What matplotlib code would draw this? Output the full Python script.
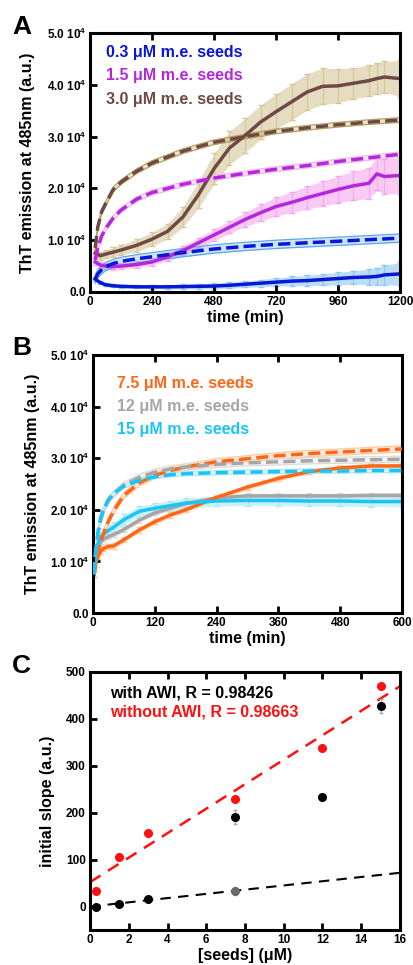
import numpy as np
import matplotlib
matplotlib.use('Agg')
import matplotlib.pyplot as plt

plt.rcParams['font.family'] = ['Liberation Sans', 'DejaVu Sans']
plt.rcParams['font.weight'] = 'bold'
plt.rcParams['mathtext.fontset'] = 'custom'
plt.rcParams['mathtext.bf'] = 'Liberation Sans:bold'
plt.rcParams['mathtext.rm'] = 'Liberation Sans:bold'
plt.rcParams['mathtext.default'] = 'bf'

# ---- Panel A data (time in min, ThT emission) ----
a_time = [20, 40, 60, 90, 120, 180, 240, 300, 360, 420, 480, 540, 600, 660,
          720, 780, 840, 900, 960, 1020, 1080, 1110, 1140, 1200]
a_blue = [2500, 1800, 1400, 1200, 1100, 1000, 1000, 1000, 1050, 1100, 1150, 1300,
          1500, 1700, 1900, 2100, 2200, 2400, 2600, 2800, 2900, 3000, 3300, 3500]
a_blue_err = [300, 300, 300, 300, 300, 300, 400, 400, 400, 500, 500, 600,
              600, 700, 800, 900, 1000, 1100, 1200, 1300, 1500, 1600, 1900, 2200]
a_mag = [5800, 5200, 5000, 4900, 5000, 5300, 5800, 6800, 8000, 9500, 11000, 12500,
         14000, 15300, 16500, 17300, 18200, 19000, 19800, 20500, 21000, 22800, 22300, 22500]
a_mag_err = [600, 600, 600, 600, 600, 600, 700, 800, 900, 1000, 1100, 1200,
             1400, 1600, 1800, 2000, 2200, 2400, 2600, 2800, 3000, 3200, 3400, 3500]
a_brown = [7500, 7000, 7300, 7700, 8100, 9000, 10200, 11700, 14500, 18800, 23800, 27800,
           30200, 32800, 34800, 36700, 38600, 39700, 39800, 40300, 40800, 41200, 41500, 41200]
a_brown_err = [800, 800, 800, 900, 1000, 1200, 1300, 1500, 2000, 2500, 3000, 3200,
               3300, 3300, 3400, 3500, 3500, 3500, 3300, 3000, 3000, 3000, 3000, 3500]

a_fit_time = [20, 30, 45, 60, 90, 120, 180, 240, 360, 480, 600, 720, 840, 960, 1080, 1200]
a_blue_fit = [2500, 3500, 4300, 4900, 5500, 5900, 6400, 6800, 7600, 8300, 8800,
              9200, 9500, 9800, 10100, 10400]
a_mag_fit = [6200, 8500, 10800, 12200, 14300, 15800, 17900, 19200, 20800, 22000,
             22900, 23700, 24400, 25200, 25900, 26600]
a_brown_fit = [8500, 12500, 15500, 17000, 19800, 21200, 23300, 24900, 27200, 28900,
               30000, 31000, 31700, 32300, 32800, 33200]

# ---- Panel B data ----
b_time = [2, 5, 10, 15, 20, 30, 40, 60, 90, 120, 150, 180, 240, 300, 360, 420, 480, 540, 600]
b_orange = [7500, 9500, 11000, 12000, 12500, 12900, 13000, 14200, 16100, 17700, 19000,
            20000, 22400, 24400, 26100, 27400, 28100, 28500, 28500]
b_gray = [7500, 10500, 12500, 13800, 14300, 14800, 15200, 16200, 18000, 19400, 20300,
          21200, 22300, 22700, 22700, 22700, 22700, 22800, 22800]
b_cyan = [7500, 11000, 13500, 14800, 15300, 16000, 16600, 18100, 19700, 20300, 20800,
          21300, 21700, 21800, 21800, 21700, 21700, 21600, 21600]
b_orange_err = [500] * 19
b_gray_err = [500] * 19
b_cyan_err = [600, 700, 800, 900, 1000, 1000, 1000, 1000, 1000, 1000, 1000,
              1000, 1000, 1000, 1000, 1000, 1000, 1000, 1000]
b_orange_fit = [7500, 9500, 12000, 13800, 15300, 17800, 19800, 22800, 25200, 26700, 27600,
                28300, 29300, 29900, 30500, 30900, 31200, 31500, 31800]
b_gray_fit = [7500, 11500, 15500, 18000, 19700, 21800, 23000, 24800, 26300, 27300, 27900,
              28300, 28800, 29100, 29300, 29500, 29600, 29700, 29800]
b_cyan_fit = [7500, 12000, 16000, 18500, 20000, 22000, 23200, 24600, 25700, 26400, 26800,
              27000, 27200, 27300, 27400, 27500, 27500, 27600, 27600]

# ---- Panel C data ----
seeds = [0.3, 1.5, 3.0, 7.5, 12, 15]
slope_awi = [0, 5, 17, 191, 234, 428]
slope_awi_err = [3, 3, 4, 15, 5, 15]
slope_noawi = [34, 105, 157, 229, 338, 471]
gray_pt_x = [7.5]
gray_pt_y = [33]
fit_awi = [4.5, 0.0]      # slope, intercept
fit_noawi = [26.1, 52.0]

W, H = 413, 965
fig = plt.figure(figsize=(W / 100, H / 100), dpi=100)


def style_axes(ax):
    for s in ax.spines.values():
        s.set_linewidth(2.2)
    ax.tick_params(direction='in', length=5, width=2, top=True, right=False,
                   labelsize=8.5, pad=3)
    for lbl in ax.get_xticklabels() + ax.get_yticklabels():
        lbl.set_fontweight('bold')


def sci_labels(ax):
    ax.set_yticks([0, 10000, 20000, 30000, 40000, 50000])
    ax.set_yticklabels(['0.0'] + ['%.1f 10$^{4}$' % v for v in [1, 2, 3, 4, 5]])


def data_curve(ax, t, y, err, col, band, lw=2.5):
    # band + error bars go underneath every line, the line itself on top
    t = np.array(t); y = np.array(y); err = np.array(err)
    ax.fill_between(t, y - err, y + err, color=band, alpha=0.6, lw=0, zorder=1)
    ax.errorbar(t, y, yerr=err, fmt='none', ecolor=band, elinewidth=0.8, capsize=2,
                zorder=1.2)
    ax.plot(t, y, color=col, lw=lw, zorder=2.5)


def fit_curve(ax, t, y, col, env, d=700, lw=2.5):
    t = np.array(t); y = np.array(y)
    ax.fill_between(t, y - d, y + d, color=env, alpha=0.3, lw=0, zorder=1.5)
    ax.plot(t, y + d, color=env, lw=0.9, zorder=1.6)
    ax.plot(t, y - d, color=env, lw=0.9, zorder=1.6)
    ax.plot(t, y, color=col, lw=lw, ls=(0, (3.5, 1.5)), zorder=3)


# ---- Panel A ----
axA = fig.add_axes([90 / W, 1 - 292 / H, 310 / W, 259 / H])
data_curve(axA, a_time, a_brown, a_brown_err, '#6e4a44', '#d4c698')
data_curve(axA, a_time, a_mag, a_mag_err, '#b428dc', '#f4a8ee')
data_curve(axA, a_time, a_blue, a_blue_err, '#0a16d8', '#8ec8f2')
fit_curve(axA, a_fit_time, a_brown_fit, '#6e4a44', '#b8a060', d=450)
fit_curve(axA, a_fit_time, a_mag_fit, '#b428dc', '#f6b4f0', d=450)
fit_curve(axA, a_fit_time, a_blue_fit, '#0a16d8', '#5aa8ec', d=800)
axA.set_xlim(0, 1200)
axA.set_ylim(0, 50000)
axA.set_xticks([0, 240, 480, 720, 960, 1200])
sci_labels(axA)
axA.set_xlabel('time (min)', fontsize=11.5, fontweight='bold', labelpad=1.5)
axA.set_ylabel('ThT emission at 485nm (a.u.)', fontsize=11.5, fontweight='bold')
axA.yaxis.set_label_coords(-0.177, 0.5)
style_axes(axA)
axA.text(0.05, 0.923, '0.3 μM m.e. seeds', color='#0a16d8', transform=axA.transAxes,
         fontsize=11.5, fontweight='bold', va='center')
axA.text(0.05, 0.834, '1.5 μM m.e. seeds', color='#b428dc', transform=axA.transAxes,
         fontsize=11.5, fontweight='bold', va='center')
axA.text(0.05, 0.745, '3.0 μM m.e. seeds', color='#6e4a44', transform=axA.transAxes,
         fontsize=11.5, fontweight='bold', va='center')
fig.text(12 / W, 1 - 27 / H, 'A', fontsize=19, fontweight='bold', va='center')

# ---- Panel B ----
axB = fig.add_axes([93 / W, 1 - 613 / H, 309 / W, 258 / H])
data_curve(axB, b_time, b_gray, b_gray_err, '#a6a6a6', '#d8d8d8')
data_curve(axB, b_time, b_orange, b_orange_err, '#ff6618', '#ffc89a')
data_curve(axB, b_time, b_cyan, b_cyan_err, '#1cc4f4', '#a8e8fa')
fit_curve(axB, b_time, b_orange_fit, '#ff6618', '#ffc89a', d=600)
fit_curve(axB, b_time, b_gray_fit, '#a6a6a6', '#dcdcdc', d=600)
fit_curve(axB, b_time, b_cyan_fit, '#1cc4f4', '#a8e8fa', d=400)
axB.set_xlim(0, 600)
axB.set_ylim(0, 50000)
axB.set_xticks([0, 120, 240, 360, 480, 600])
sci_labels(axB)
axB.set_xlabel('time (min)', fontsize=11.5, fontweight='bold', labelpad=1.5)
axB.set_ylabel('ThT emission at 485nm (a.u.)', fontsize=11.5, fontweight='bold')
axB.yaxis.set_label_coords(-0.17, 0.5)
style_axes(axB)
axB.text(0.078, 0.888, '7.5 μM m.e. seeds', color='#ff6618', transform=axB.transAxes,
         fontsize=11.5, fontweight='bold', va='center')
axB.text(0.078, 0.80, '12 μM m.e. seeds', color='#a6a6a6', transform=axB.transAxes,
         fontsize=11.5, fontweight='bold', va='center')
axB.text(0.078, 0.71, '15 μM m.e. seeds', color='#1cc4f4', transform=axB.transAxes,
         fontsize=11.5, fontweight='bold', va='center')
fig.text(12 / W, 1 - 348 / H, 'B', fontsize=19, fontweight='bold', va='center')

# ---- Panel C ----
axC = fig.add_axes([90 / W, 1 - 930 / H, 310 / W, 258 / H])
xx = np.array([0, 16])
axC.plot(xx, np.polyval(fit_noawi, xx), color='#ff1010', lw=1.8, ls=(0, (5, 3.5)))
axC.plot(xx, np.polyval(fit_awi, xx), color='black', lw=1.5, ls=(0, (5, 3.5)))
axC.errorbar(seeds, slope_awi, yerr=slope_awi_err, fmt='o', color='black', ms=5.5,
             ecolor='#aaaaaa', elinewidth=1, capsize=1.5, zorder=3)
axC.errorbar(gray_pt_x, gray_pt_y, yerr=[8], fmt='o', color='#6a6a6a', ms=5.5,
             ecolor='#bbbbbb', elinewidth=1, capsize=1.5, zorder=3)
axC.plot(seeds, slope_noawi, 'o', color='#ff1010', ms=5.5, zorder=3)
axC.set_xlim(0, 16)
axC.set_ylim(-50, 500)
axC.set_xticks(range(0, 17, 2))
axC.set_yticks(range(0, 501, 100))
axC.set_xlabel('[seeds] (μM)', fontsize=11.5, fontweight='bold', labelpad=1.5)
axC.set_ylabel('initial slope (a.u.)', fontsize=11.5, fontweight='bold')
axC.yaxis.set_label_coords(-0.113, 0.5)
style_axes(axC)
axC.text(0.065, 0.92, 'with AWI, R = 0.98426', color='black', transform=axC.transAxes,
         fontsize=11.5, fontweight='bold', va='center')
axC.text(0.065, 0.845, 'without AWI, R = 0.98663', color='#ff1010', transform=axC.transAxes,
         fontsize=11.5, fontweight='bold', va='center')
fig.text(12 / W, 1 - 666 / H, 'C', fontsize=19, fontweight='bold', va='center')

fig.savefig('out.png', dpi=100)
